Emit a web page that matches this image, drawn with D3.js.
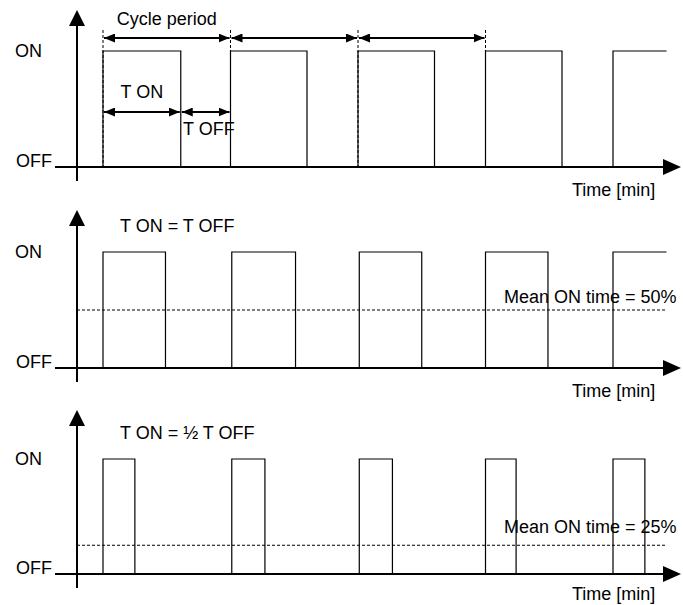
<!DOCTYPE html>
<html>
<head>
<meta charset="utf-8">
<script src="https://cdn.jsdelivr.net/npm/d3@7"></script>
<style>
  body { margin: 0; background: #fff; }
  text { font-family: "Liberation Sans", Arial, sans-serif; font-size: 18px; fill: #000; }
</style>
</head>
<body>
<div id="viz"></div>
<script>
/*** data ***/
const panelTitles = ["Cycle period", "T ON = T OFF", "T ON = ½ T OFF"];
const levelLabels = ["OFF", "ON"];
const axisLabel = "Time [min]";
// rise / fall times of each pulse (min), one list per panel
const riseTimes = [[0, 10, 20, 30, 40], [0, 10.1, 20.1, 30, 40], [0, 10.1, 20.1, 30, 40]];
const fallTimes = [[6.1, 16, 26, 36], [4.9, 15.1, 25, 34.9], [2.5, 12.7, 22.7, 32.4, 42.5]];
const traceEnd = 44.2;
const meanOn = [null, 0.5, 0.25];
const meanLabels = [null, "Mean ON time = 50%", "Mean ON time = 25%"];
const cycleMarks = [0, 10, 20, 30];
const cycleArrows = [[0, 10], [10, 20], [20, 30]];
const tOnSpan = [0, 6.1], tOffSpan = [6.1, 10];

/*** layout ***/
const width = 683, height = 605;
const axisX = 77, axisStart = 55, axisTip = 681;
const panels = [
  { base: 167, on: 51, tip: 10, meanDy: 0, labelDy: 29 },
  { base: 368, on: 252, tip: 210, meanDy: -7, labelDy: 29 },
  { base: 574, on: 459, tip: 410, meanDy: -12, labelDy: 26 }
];

const x = d3.scaleLinear().domain([0, 40]).range([103, 613]);

const svg = d3.select('#viz')
  .append('svg')
  .attr('width', width)
  .attr('height', height);

svg.append('defs').append('marker')
  .attr('id', 'head')
  .attr('viewBox', '0 0 11 9')
  .attr('refX', 11).attr('refY', 4.5)
  .attr('markerWidth', 11).attr('markerHeight', 9)
  .attr('markerUnits', 'userSpaceOnUse')
  .attr('orient', 'auto-start-reverse')
  .append('path')
  .attr('d', 'M0,0L11,4.5L0,9Z')
  .attr('fill', '#000');

function doubleArrow(g, x0, x1, yy) {
  g.append('line')
    .attr('x1', x0).attr('x2', x1)
    .attr('y1', yy).attr('y2', yy)
    .attr('stroke', '#000')
    .attr('stroke-width', 2)
    .attr('marker-start', 'url(#head)')
    .attr('marker-end', 'url(#head)');
}

panels.forEach((p, i) => {
  const y = d3.scaleLinear().domain([0, 1]).range([p.base, p.on]);
  const g = svg.append('g');

  // mean line
  if (meanOn[i] != null) {
    g.append('line')
      .attr('x1', axisX).attr('x2', x(traceEnd))
      .attr('y1', y(meanOn[i])).attr('y2', y(meanOn[i]))
      .attr('stroke', '#000')
      .attr('stroke-width', 1)
      .attr('stroke-dasharray', '3,2');
  }

  // pulses
  const line = d3.line().x(d => x(d[0])).y(d => y(d[1]));
  riseTimes[i].forEach((r, k) => {
    const f = fallTimes[i][k];
    const pts = f != null ? [[r, 0], [r, 1], [f, 1], [f, 0]] : [[r, 0], [r, 1], [traceEnd, 1]];
    g.append('path')
      .attr('d', line(pts))
      .attr('fill', 'none')
      .attr('stroke', '#000')
      .attr('stroke-width', 1.2);
  });

  // x axis
  g.append('line')
    .attr('x1', axisStart).attr('x2', axisTip - 16)
    .attr('y1', p.base).attr('y2', p.base)
    .attr('stroke', '#000').attr('stroke-width', 2);
  g.append('path')
    .attr('d', `M${axisTip},${p.base}L${axisTip - 18},${p.base - 8}L${axisTip - 18},${p.base + 8}Z`)
    .attr('fill', '#000');

  // y axis
  g.append('line')
    .attr('x1', axisX).attr('x2', axisX)
    .attr('y1', p.base + 14).attr('y2', p.tip + 14)
    .attr('stroke', '#000').attr('stroke-width', 2);
  g.append('path')
    .attr('d', `M${axisX},${p.tip}L${axisX - 8},${p.tip + 16}L${axisX + 8},${p.tip + 16}Z`)
    .attr('fill', '#000');

  // labels
  g.append('text').attr('x', 15).attr('y', y(1) + 6).text(levelLabels[1]);
  g.append('text').attr('x', 16).attr('y', y(0)).text(levelLabels[0]);
  g.append('text').attr('x', 572).attr('y', p.base + p.labelDy).text(axisLabel);

  if (i > 0) {
    g.append('text').attr('x', 120).attr('y', p.on - 20).text(panelTitles[i]);
    g.append('text').attr('x', 504).attr('y', y(meanOn[i]) + p.meanDy).text(meanLabels[i]);
  } else {
    // period markers
    g.selectAll('.mark')
      .data(cycleMarks)
      .join('line')
      .attr('x1', d => x(d)).attr('x2', d => x(d))
      .attr('y1', 30).attr('y2', p.base)
      .attr('stroke', '#000')
      .attr('stroke-width', 1)
      .attr('stroke-dasharray', '3,2');
    cycleArrows.forEach(a => doubleArrow(g, x(a[0]) + 1, x(a[1]) - 1, 38));
    doubleArrow(g, x(tOnSpan[0]) + 1, x(tOnSpan[1]) - 1, 112);
    doubleArrow(g, x(tOffSpan[0]) + 1, x(tOffSpan[1]) - 1, 112);

    g.append('text').attr('x', x(5)).attr('y', 25).attr('text-anchor', 'middle').text(panelTitles[0]);
    g.append('text').attr('x', x(3.05)).attr('y', 98).attr('text-anchor', 'middle').text('T ON');
    g.append('text').attr('x', 183).attr('y', 135).text('T OFF');
  }
});
</script>
</body>
</html>
